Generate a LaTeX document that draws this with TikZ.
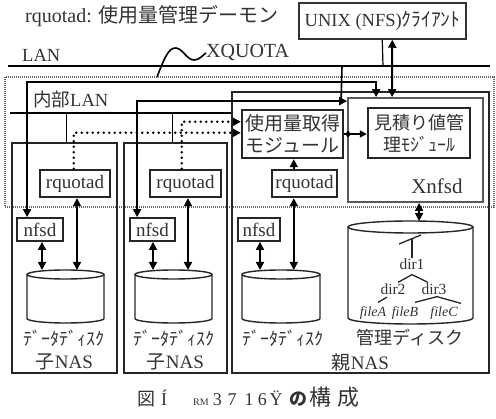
\documentclass[tikz,border=0pt]{standalone}
\usepackage{fontspec}
\setmainfont{Liberation Serif}
\newfontfamily\jp{Noto Sans CJK JP}
\usetikzlibrary{arrows.meta,calc}

% cylinder: name of top point, centre x, centre y of the top ellipse, x radius, y radius, body height
\newcommand{\storagedisk}[6]{%
  \draw[diskline] ({#2-#4},{#3}) -- ({#2-#4},{#3+#6})
     .. controls ({#2-#4},{#3+#6+0.552*#5}) and ({#2-0.552*#4},{#3+#6+#5}) .. ({#2},{#3+#6+#5})
     .. controls ({#2+0.552*#4},{#3+#6+#5}) and ({#2+#4},{#3+#6+0.552*#5}) .. ({#2+#4},{#3+#6})
     -- ({#2+#4},{#3});
  \draw[diskline] (#2,#3) ellipse [x radius=#4, y radius=#5];
  \coordinate (#1) at (#2,{#3-#5});
}

\begin{document}
\begin{tikzpicture}[x=1pt,y=-1pt,
  >={Triangle[length=8pt,width=8pt]},
  every node/.style={inner sep=0pt, text=black!80, font=\fontsize{18}{20}\selectfont},
  frame/.style={draw=black!85, line width=1.4pt},
  boxthick/.style={draw=black!85, line width=2.4pt, fill=white},
  boxmid/.style={draw=black!85, line width=1.8pt, fill=white},
  wire/.style={draw=black, line width=1.6pt},
  heavywire/.style={draw=black, line width=2pt},
  dots/.style={line width=2.8pt, dash pattern=on 0pt off 5.5pt, line cap=round},
  diskline/.style={draw=black!85, line width=1.4pt},
  treeline/.style={draw=black!85, line width=1.3pt},
  smalltip/.style={-{Triangle[length=5pt,width=6pt]}}
]
\useasboundingbox (0,0) rectangle (496,419);

% heading
\node[anchor=west, font=\fontsize{20}{22}\selectfont] (title) at (25,16) {rquotad: {\jp 使用量管理デーモン}};

% NFS client
\node[draw=black!80, line width=1.5pt, minimum width=167, minimum height=36, fill=white, font=\fontsize{18.5}{20}\selectfont] (cl) at (382.5,21) {UNIX (NFS){\jp\fontsize{19.5}{20}\selectfont ｸﾗｲｱﾝﾄ}};

% external LAN
\coordinate (lanL) at (8,66);
\coordinate (lanR) at (490,66);
\draw[line width=1.8pt] (lanL) -- (lanR);
\node[anchor=west, font=\fontsize{18.5}{20}\selectfont] (lanlbl) at (22,55) {LAN};

% XQUOTA label with its leader
\node[anchor=west, font=\fontsize{20}{22}\selectfont] (xq) at (206,53) {XQUOTA};
\coordinate (xqfoot) at (157,77);
\draw[line width=1.6pt] (xqfoot) .. controls (163,62) and (168,47) .. (176,48)
   .. controls (183,49) and (187,60) .. (194,60) .. controls (199,60) and (202,56) .. (xq.west);

% XQUOTA enclosure
\draw[draw=black!60, line width=1.3pt, dash pattern=on 1pt off 1pt] (5,77) rectangle (494,207);

% NAS housings
\node[frame, minimum width=257, minimum height=281] (pn) at (360.5,232.5) {};
\node[frame, minimum width=105, minimum height=230] (c1) at (64.5,258) {};
\node[frame, minimum width=103, minimum height=230] (c2) at (175.5,258) {};

% internal LAN
\node[anchor=west, font=\fontsize{18.5}{20}\selectfont] (ilbl) at (33,99) {{\jp 内部}LAN};
\coordinate (ilanL) at (10,113);
\draw[wire] (ilanL) -- (pn.west |- ilanL);
\draw[wire] ($(c1.north west)+(55,0)$) -- ++(0,-30);
\draw[wire] ($(c2.north west)+(49,0)$) -- ++(0,-30);

% Xnfsd
\node[draw=black!65, line width=1.8pt, minimum width=135, minimum height=104] (xn) at (415.5,150) {};
\node[font=\fontsize{21}{22}\selectfont] (xnl) at (437,186) {Xnfsd};

% modules
\node[boxthick, minimum width=101, minimum height=48, align=center, font=\jp\fontsize{19}{22}\selectfont] (m1) at (292.5,134) {使用量取得\\モジュール};
\node[boxthick, minimum width=102, minimum height=50, align=center, font=\jp\fontsize{18}{22}\selectfont] (m2) at (419,133) {見積り値管\\理ﾓｼﾞｭｰﾙ};

% rquotad daemons
\node[boxthick, minimum width=70, minimum height=27, font=\fontsize{19}{20}\selectfont] (r1) at (75,183.5) {rquotad};
\node[boxthick, minimum width=71, minimum height=27, font=\fontsize{19}{20}\selectfont] (r2) at (185.5,183.5) {rquotad};
\node[boxthick, minimum width=65, minimum height=27, font=\fontsize{19}{20}\selectfont] (r3) at (304.5,183.5) {rquotad};

% nfsd daemons
\node[boxmid, minimum width=46, minimum height=23, font=\fontsize{19}{20}\selectfont] (n1) at (40,229.5) {nfsd};
\node[boxmid, minimum width=45, minimum height=23, font=\fontsize{19}{20}\selectfont] (n2) at (152.5,229.5) {nfsd};
\node[boxmid, minimum width=42, minimum height=23, font=\fontsize{19}{20}\selectfont] (n3) at (259,229.5) {nfsd};

% disks
\storagedisk{d1}{65.5}{274.5}{38.5}{4.5}{44}
\storagedisk{d2}{173.5}{274.5}{38.5}{4.5}{44}
\storagedisk{d3}{281}{274.5}{39}{4.5}{44}
\storagedisk{md}{410.5}{227}{62.5}{6}{91}

% disk and housing labels
\node[font=\jp\fontsize{18}{20}\selectfont] (dl1) at (64,338) {ﾃﾞｰﾀﾃﾞｨｽｸ};
\node[font=\jp\fontsize{18}{20}\selectfont] (dl2) at (174,338) {ﾃﾞｰﾀﾃﾞｨｽｸ};
\node[font=\jp\fontsize{18}{20}\selectfont] (dl3) at (283,338) {ﾃﾞｰﾀﾃﾞｨｽｸ};
\node[font=\jp\fontsize{18}{20}\selectfont] (mdl) at (410,338) {管理ディスク};
\node[font=\fontsize{19}{20}\selectfont] (cn1) at (64.5,362) {{\jp 子}NAS};
\node[font=\fontsize{19}{20}\selectfont] (cn2) at (175.5,362) {{\jp 子}NAS};
\node[font=\fontsize{19}{20}\selectfont] (pnl) at (360.5,362) {{\jp 親}NAS};

% directory tree on the management disk
\coordinate (rootL) at (399,244);
\coordinate (rootR) at (421,235);
\coordinate (root) at (412,239);
\draw[treeline] (rootL) -- (rootR);
\node[font=\fontsize{15.5}{16}\selectfont] (dir1) at (412,264) {dir1};
\node[font=\fontsize{15.5}{16}\selectfont] (dir2) at (393,289) {dir2};
\node[font=\fontsize{15.5}{16}\selectfont] (dir3) at (434,289) {dir3};
\node[font=\itshape\fontsize{14}{15}\selectfont] (fA) at (373,313) {fileA};
\node[font=\itshape\fontsize{14}{15}\selectfont] (fB) at (405,313) {fileB};
\node[font=\itshape\fontsize{14}{15}\selectfont] (fC) at (444,313) {fileC};
\draw[treeline] (root) -- (dir1.north);
\draw[treeline] ($(dir2.north)+(5,-1)$) -- ($(dir1.south)+(0,5)$) -- ($(dir3.north)+(-6,-1)$);
\draw[treeline] ($(dir2.south)+(-6,2.5)$) -- ($(fA.north)+(5,-4)$);
\draw[treeline] ($(fB.north)+(10,-4)$) -- ($(dir3.south)+(3,2)$) -- ($(fC.north)+(17,-3)$);

% LAN links
\draw[heavywire, <->] ($(xn.north west)+(29,0)$) |- ($(n1.north west)+(11,-135)$) -- ($(n1.north west)+(11,0)$);
\draw[heavywire, <->] ($(n2.north west)+(8,0)$) |- ($(xn.north west)+(0,4)$);
\draw[wire] ($(lanL)+(334,0)$) -- ($(xn.north west)+(-6,4)$);
\draw[line width=1.2pt] ($(cl.south west)+(84,0)$) -- ($(lanL)+(375,0)$);
\draw[heavywire, <->] ($(cl.south west)+(94,0)$) -- ($(xn.north west)+(45,0)$);

% quota queries from the child NAS daemons
\draw[dots, ->] ($(r1.north west)+(35,0)$) |- ($(m1.north west)+(0,24)$);
\draw[dots, ->] ($(r2.north west)+(33,0)$) |- ($(m1.north west)+(0,13)$);

% module to module
\draw[wire, {Triangle[length=5pt,width=6pt]}-{Triangle[length=7pt,width=7pt]}] (m1.east) -- (m2.west |- m1.east);
\draw[wire, smalltip] (m1.east) -- ($(xn.west |- m1.east)+(5,0)$);

% parent rquotad
\coordinate (r3up) at ($(r3.north west)+(23,0)$);
\coordinate (r3dn) at ($(r3.south west)+(23,0)$);
\draw[wire, ->] (r3up) -- (r3up |- m1.south);

% daemon to disk
\coordinate (n1dn) at ($(n1.south)+(2,0)$);
\coordinate (r1dn) at ($(r1.south)+(2,0)$);
\coordinate (n2dn) at ($(n2.south)+(0.5,0)$);
\coordinate (r2dn) at ($(r2.south)+(2.5,0)$);
\coordinate (n3dn) at ($(n3.south)+(1,0)$);
\coordinate (xndn) at ($(xn.south west)+(72,0)$);
\draw[wire, <->] (n1dn) -- (n1dn |- d1);
\draw[wire, <->] (r1dn) -- (r1dn |- d1);
\draw[wire, <->] (n2dn) -- (n2dn |- d2);
\draw[wire, <->] (r2dn) -- (r2dn |- d2);
\draw[wire, <->] (n3dn) -- (n3dn |- d3);
\draw[wire, <->] (r3dn) -- (r3dn |- d3);
\draw[wire, <->] (xndn) -- (xndn |- md);

% caption
\node[anchor=west, font=\fontsize{18}{20}\selectfont] (cap) at (137,397) {{\jp 図}\hspace{6pt}Í\hspace{26pt}{\fontsize{10}{10}\selectfont RM}\hspace{4pt}3\hspace{6pt}7\hspace{8pt}1\hspace{4pt}6\hspace{3pt}Ÿ\hspace{7pt}{\jp\bfseries の}\hspace{2pt}{\jp\fontsize{22}{22}\selectfont 構\hspace{6pt}成}};
\end{tikzpicture}
\end{document}
